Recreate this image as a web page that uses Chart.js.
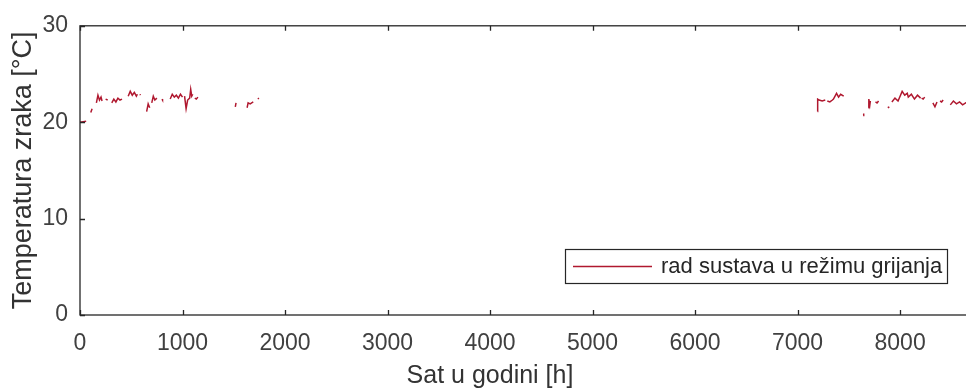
<!DOCTYPE html>
<html>
<head>
<meta charset="utf-8">
<script src="https://cdn.jsdelivr.net/npm/chart.js@4/dist/chart.umd.min.js"></script>
<style>
html,body{margin:0;padding:0;background:#fff;overflow:hidden;}
#wrap{position:relative;width:990px;height:392px;}
</style>
</head>
<body>
<div id="wrap"><canvas id="c" width="990" height="392"></canvas></div>
<script>
// Hours of the year (null temperature = gap in operation)
const hours = [
  0, 60, 60,
  105, 118, 118,
  160, 175, 190, 205, 215, 215,
  250, 270, 270,
  310, 330, 350, 370, 390, 410, 410,
  470, 490, 510, 530, 550, 560, 560,
  585, 590, 590,
  650, 665, 680, 680,
  700, 715, 730, 750, 750,
  800, 805, 805,
  880, 900, 920, 940, 960, 980, 1000, 1000,
  1020, 1035, 1050, 1070, 1080, 1090, 1100, 1100,
  1120, 1135, 1150, 1150,
  1515, 1522, 1522,
  1630, 1640, 1660, 1690, 1690,
  1735, 1745, 1745,
  7195, 7196, 7210, 7240, 7270, 7270,
  7290, 7315, 7340, 7350, 7380, 7400, 7420, 7450, 7450,
  7640, 7645, 7645,
  7690, 7695, 7705, 7710, 7710,
  7760, 7775, 7790, 7790,
  7880, 7895, 7895,
  7920, 7950, 7980, 8000, 8020, 8045, 8070, 8080, 8110, 8140, 8170, 8200, 8200,
  8210, 8225, 8240, 8240,
  8320, 8340, 8360, 8360,
  8390, 8405, 8420, 8420,
  8490, 8520, 8550, 8580, 8610, 8640, 8670, 8700, 8730, 8760
];
const temperature = [
  20.0, 20.1, null,
  21.0, 21.4, null,
  22.0, 22.8, 22.3, 22.6, 22.2, null,
  22.4, 22.3, null,
  22.0, 22.4, 22.1, 22.5, 22.3, 22.4, null,
  22.7, 23.2, 22.8, 23.1, 22.7, 22.9, null,
  22.9, 22.8, null,
  21.1, 21.9, 21.5, null,
  22.0, 22.7, 22.3, 22.5, null,
  22.4, 22.3, null,
  22.4, 22.9, 22.6, 22.8, 22.5, 22.9, 22.6, null,
  22.7, 21.4, 22.3, 22.5, 23.4, 22.7, 22.9, null,
  22.5, 22.4, 22.6, null,
  21.6, 22.0, null,
  21.5, 22.0, 21.9, 22.1, null,
  22.5, 22.4, null,
  21.1, 22.4, 22.3, 22.2, 22.3, null,
  22.2, 22.1, 22.3, 22.4, 23.0, 22.6, 22.9, 22.7, null,
  20.7, 20.9, null,
  21.5, 22.4, 21.8, 22.2, null,
  22.1, 22.0, 22.2, null,
  21.5, 21.6, null,
  22.1, 22.5, 22.2, 22.7, 23.2, 22.8, 23.0, 22.6, 22.9, 22.4, 22.8, 22.5, null,
  22.5, 22.4, 22.6, null,
  22.0, 21.6, 22.1, null,
  22.2, 22.1, 22.3, null,
  21.8, 22.2, 21.9, 22.1, 21.8, 22.0, 22.2, 21.9, 22.1, 22.0
];
const xTicks = [0, 1000, 2000, 3000, 4000, 5000, 6000, 7000, 8000];
const yTicks = [0, 10, 20, 30];
const seriesLabel = 'rad sustava u režimu grijanja';
const xTitle = 'Sat u godini [h]';
const yTitle = 'Temperatura zraka [°C]';

const points = hours.map((h, i) => ({x: h, y: temperature[i]}));
const FONT = 'Liberation Sans, Arial, sans-serif';
const AX = '#262626';

const framePlugin = {
  id: 'frame',
  afterDraw(chart) {
    const {ctx, chartArea: a, scales: {x, y}} = chart;
    ctx.save();
    ctx.strokeStyle = AX;
    ctx.lineWidth = 1.3;
    ctx.strokeRect(a.left, a.top, a.right - a.left, a.bottom - a.top);
    ctx.beginPath();
    xTicks.forEach(t => {
      const px = Math.round(x.getPixelForValue(t)) + 0.5;
      ctx.moveTo(px, a.bottom); ctx.lineTo(px, a.bottom - 5);
      ctx.moveTo(px, a.top); ctx.lineTo(px, a.top + 5);
    });
    yTicks.forEach(t => {
      const py = Math.round(y.getPixelForValue(t)) + 0.5;
      ctx.moveTo(a.left, py); ctx.lineTo(a.left + 5, py);
    });
    ctx.stroke();
    // x axis title
    ctx.fillStyle = '#333';
    ctx.font = '25px ' + FONT;
    ctx.textAlign = 'center';
    ctx.textBaseline = 'alphabetic';
    ctx.fillText(xTitle, 490, 383);
    // legend box
    const bx = 565, by = 249, bw = 382, bh = 34;
    ctx.fillStyle = '#fff';
    ctx.fillRect(bx, by, bw, bh);
    ctx.strokeStyle = AX;
    ctx.lineWidth = 1.2;
    ctx.strokeRect(bx + 0.5, by + 0.5, bw, bh);
    ctx.strokeStyle = chart.data.datasets[0].borderColor;
    ctx.lineWidth = 1.5;
    ctx.beginPath();
    ctx.moveTo(573, by + bh / 2 + 0.5); ctx.lineTo(652, by + bh / 2 + 0.5);
    ctx.stroke();
    ctx.fillStyle = '#262626';
    ctx.textAlign = 'left';
    ctx.textBaseline = 'middle';
    ctx.font = '22px ' + FONT;
    ctx.fillText(chart.data.datasets[0].label, 661, by + bh / 2 + 1);
    ctx.restore();
  }
};

new Chart(document.getElementById('c'), {
  type: 'line',
  data: {
    datasets: [{
      label: seriesLabel,
      data: points,
      borderColor: '#b0182f',
      borderWidth: 1.5,
      pointRadius: 0,
      spanGaps: false,
      tension: 0
    }]
  },
  options: {
    responsive: false,
    animation: false,
    layout: {padding: {left: 0, top: 24, right: 12, bottom: 0}},
    plugins: {legend: {display: false}, tooltip: {enabled: false}},
    scales: {
      x: {
        type: 'linear', min: 0, max: 8760,
        afterBuildTicks(s) { s.ticks = xTicks.map(v => ({value: v})); },
        afterFit(s) { s.height = 77; },
        grid: {display: false, drawTicks: false},
        border: {display: false},
        ticks: {padding: 15, color: '#404040', font: {family: FONT, size: 23}, maxRotation: 0, autoSkip: false,
                callback: v => String(v)}
      },
      y: {
        min: 0, max: 30,
        afterBuildTicks(s) { s.ticks = yTicks.map(v => ({value: v})); },
        afterFit(s) { s.width = 80; },
        grid: {display: false, drawTicks: false},
        border: {display: false},
        ticks: {padding: 12, color: '#404040', font: {family: FONT, size: 23}, callback: v => String(v)},
        title: {display: true, text: yTitle, color: '#333', font: {family: FONT, size: 27}, padding: {top: 7, bottom: 0}}
      }
    }
  },
  plugins: [framePlugin]
});
</script>
</body>
</html>
